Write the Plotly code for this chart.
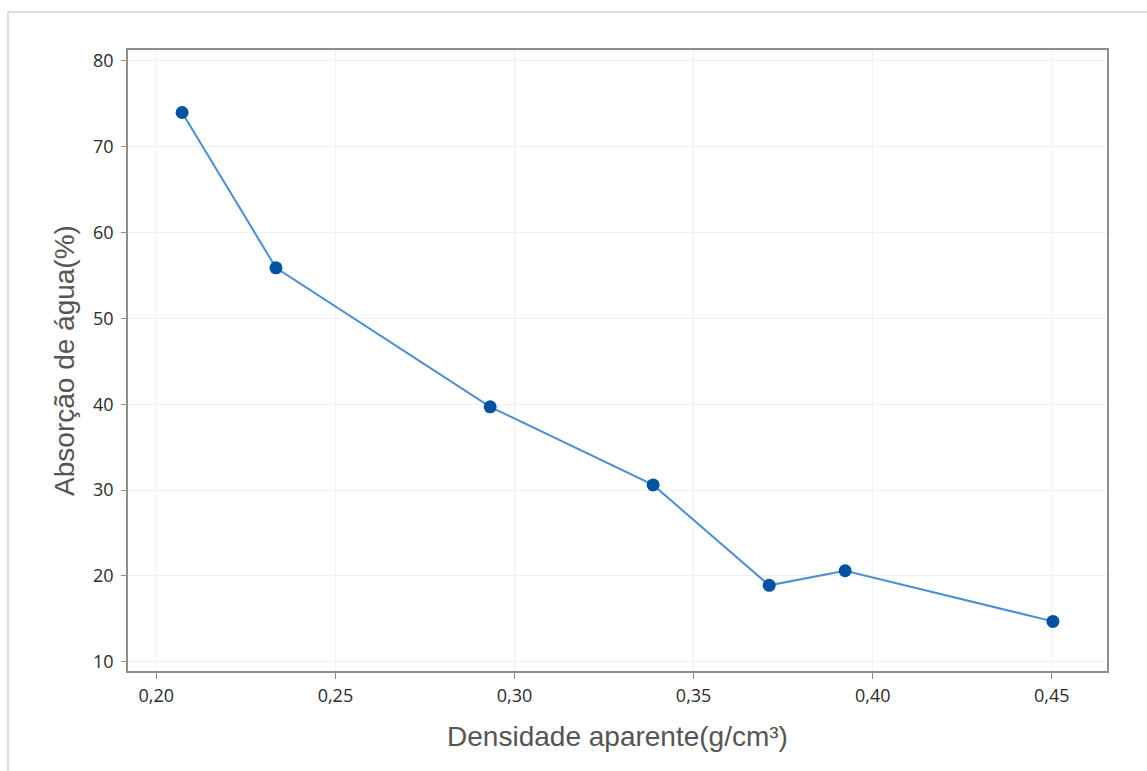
import plotly.graph_objects as go

densidade = [0.2072, 0.2334, 0.2932, 0.3387, 0.3711, 0.3923, 0.4503]
absorcao = [74.0, 55.9, 39.7, 30.6, 18.9, 20.6, 14.7]

x_ticks = [0.20, 0.25, 0.30, 0.35, 0.40, 0.45]
y_ticks = [10, 20, 30, 40, 50, 60, 70, 80]

W, H = 1147, 771
ml, mr, mt, mb = 128, 40, 50, 100
pw, ph = W - ml - mr, H - mt - mb

def px(x):
    return (x - ml) / pw

def py(y):
    return (H - mb - y) / ph

fig = go.Figure()
fig.add_trace(go.Scatter(
    x=densidade, y=absorcao, mode="lines+markers",
    line=dict(color="#4a8fd6", width=2),
    marker=dict(symbol="circle", size=13, color="#0052a3",
                line=dict(width=0)),
    showlegend=False,
))

fig.add_shape(type="rect", xref="paper", yref="paper",
              x0=px(8), x1=px(1160), y0=py(790), y1=py(12),
              line=dict(color="#dcdcdc", width=2), layer="below")

tickfont = dict(family="Open Sans, Noto Sans, sans-serif", size=18, color="#2b2b2b")
titlefont = dict(family="Liberation Sans, Arial, sans-serif", size=28, color="#555555")

fig.update_layout(
    width=W, height=H,
    margin=dict(l=ml, r=mr, t=mt, b=mb),
    paper_bgcolor="white", plot_bgcolor="white",
    separators=",.",
    xaxis=dict(
        range=[0.1921, 0.4654], tickvals=x_ticks, tickformat=".2f",
        showgrid=True, gridcolor="#f0f0f0", gridwidth=1,
        showline=True, linecolor="#8e8e8e", linewidth=1.5, mirror=True,
        ticks="outside", ticklen=6, tickcolor="#8e8e8e",
        tickfont=tickfont, zeroline=False, ticklabelstandoff=2,
        title=dict(text="Densidade aparente(g/cm³)", font=titlefont, standoff=20),
    ),
    yaxis=dict(
        range=[8.92, 81.28], tickvals=y_ticks,
        showgrid=True, gridcolor="#f0f0f0", gridwidth=1,
        showline=True, linecolor="#8e8e8e", linewidth=1.5, mirror=True,
        ticks="outside", ticklen=5, tickcolor="#8e8e8e",
        tickfont=tickfont, zeroline=False, ticklabelstandoff=4,
        title=dict(text="Absorção de água(%)", font=titlefont, standoff=10),
    ),
)

fig.write_html("out.html")
